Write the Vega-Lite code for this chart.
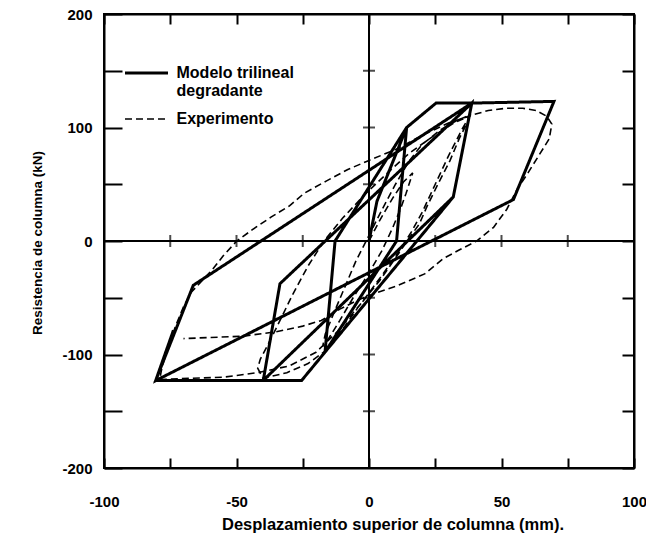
{
  "$schema": "https://vega.github.io/schema/vega-lite/v6.json",
  "width": 530,
  "height": 454,
  "autosize": "none",
  "padding": {"left": 104, "top": 14, "right": 12, "bottom": 76},
  "background": "white",
  "config": {
    "font": "Liberation Sans",
    "view": {"stroke": "black", "strokeWidth": 2},
    "axis": {
      "grid": false,
      "domainColor": "black",
      "domainWidth": 2,
      "tickColor": "black",
      "tickWidth": 2,
      "labelColor": "black",
      "labelFont": "Liberation Sans",
      "labelFontSize": 15,
      "labelFontWeight": "bold",
      "labelOverlap": false,
      "labelFlush": false,
      "titleColor": "black",
      "titleFont": "Liberation Sans"
    }
  },
  "datasets": {
    "modelo": [
      {"i": 1, "x": 0, "y": 0}, {"i": 2, "x": 3, "y": 35}, {"i": 3, "x": 14.2, "y": 100},
      {"i": 4, "x": 10.4, "y": 0}, {"i": 5, "x": -16.6, "y": -97.9}, {"i": 6, "x": -12.8, "y": 0},
      {"i": 7, "x": 14.2, "y": 100}, {"i": 8, "x": 25.3, "y": 121.5}, {"i": 9, "x": 38.8, "y": 121.5},
      {"i": 10, "x": 31.8, "y": 38.8}, {"i": 11, "x": -16.6, "y": -97.9}, {"i": 12, "x": -25.4, "y": -122.8},
      {"i": 13, "x": -39.9, "y": -122.8}, {"i": 14, "x": -33.6, "y": -37.6}, {"i": 15, "x": 38.8, "y": 121.5},
      {"i": 16, "x": 31.8, "y": 38.8}, {"i": 17, "x": -39.9, "y": -122.8}, {"i": 18, "x": -80.5, "y": -123},
      {"i": 19, "x": -66.3, "y": -39}, {"i": 20, "x": 38.8, "y": 121.5}, {"i": 21, "x": 69.8, "y": 123},
      {"i": 22, "x": 54.5, "y": 36.5}, {"i": 23, "x": -80.5, "y": -123}, {"i": 24, "x": -73.8, "y": -78.7}
    ],
    "experimento": [
      {"i": 1, "x": 0, "y": 0}, {"i": 2, "x": 4, "y": 18}, {"i": 3, "x": 9, "y": 38}, {"i": 4, "x": 13, "y": 52},
      {"i": 5, "x": 16.5, "y": 60}, {"i": 6, "x": 14, "y": 42}, {"i": 7, "x": 12, "y": 29}, {"i": 8, "x": 9, "y": 12},
      {"i": 9, "x": 5, "y": -8}, {"i": 10, "x": 0, "y": -28}, {"i": 11, "x": -6, "y": -50}, {"i": 12, "x": -11, "y": -70},
      {"i": 13, "x": -15, "y": -85}, {"i": 14, "x": -17.5, "y": -93}, {"i": 15, "x": -16.5, "y": -82}, {"i": 16, "x": -13, "y": -62},
      {"i": 17, "x": -9, "y": -40}, {"i": 18, "x": -5, "y": -18}, {"i": 19, "x": 0, "y": 5}, {"i": 20, "x": 5, "y": 28},
      {"i": 21, "x": 10, "y": 50}, {"i": 22, "x": 15, "y": 70}, {"i": 23, "x": 20, "y": 85}, {"i": 24, "x": 27, "y": 98},
      {"i": 25, "x": 33, "y": 106}, {"i": 26, "x": 38, "y": 111}, {"i": 27, "x": 37.5, "y": 106}, {"i": 28, "x": 34, "y": 90},
      {"i": 29, "x": 30.6, "y": 71}, {"i": 30, "x": 26, "y": 50}, {"i": 31, "x": 21.8, "y": 30}, {"i": 32, "x": 19, "y": 15},
      {"i": 33, "x": 15, "y": 2}, {"i": 34, "x": 10, "y": -15}, {"i": 35, "x": 4, "y": -35}, {"i": 36, "x": -4, "y": -58},
      {"i": 37, "x": -10, "y": -78}, {"i": 38, "x": -16, "y": -96}, {"i": 39, "x": -23, "y": -108}, {"i": 40, "x": -31, "y": -116},
      {"i": 41, "x": -40, "y": -121}, {"i": 42, "x": -42, "y": -112}, {"i": 43, "x": -41, "y": -104}, {"i": 44, "x": -38.6, "y": -93.5},
      {"i": 45, "x": -34, "y": -72}, {"i": 46, "x": -29, "y": -48}, {"i": 47, "x": -23, "y": -22}, {"i": 48, "x": -17, "y": 0},
      {"i": 49, "x": -10, "y": 20}, {"i": 50, "x": -2, "y": 40}, {"i": 51, "x": 7, "y": 60}, {"i": 52, "x": 15, "y": 77},
      {"i": 53, "x": 24, "y": 92}, {"i": 54, "x": 32, "y": 104}, {"i": 55, "x": 38, "y": 110}, {"i": 56, "x": 35, "y": 98},
      {"i": 57, "x": 30, "y": 75}, {"i": 58, "x": 25, "y": 50}, {"i": 59, "x": 20, "y": 25}, {"i": 60, "x": 16, "y": 8},
      {"i": 61, "x": 11, "y": -10}, {"i": 62, "x": 5, "y": -30}, {"i": 63, "x": -3, "y": -55}, {"i": 64, "x": -12, "y": -80},
      {"i": 65, "x": -20, "y": -98}, {"i": 66, "x": -30, "y": -110}, {"i": 67, "x": -42, "y": -116}, {"i": 68, "x": -55, "y": -120},
      {"i": 69, "x": -68, "y": -121}, {"i": 70, "x": -79, "y": -122}, {"i": 71, "x": -78, "y": -110}, {"i": 72, "x": -76, "y": -95},
      {"i": 73, "x": -73, "y": -75}, {"i": 74, "x": -70, "y": -58}, {"i": 75, "x": -67, "y": -45}, {"i": 76, "x": -63, "y": -35},
      {"i": 77, "x": -59, "y": -25}, {"i": 78, "x": -55, "y": -13}, {"i": 79, "x": -49.9, "y": 0}, {"i": 80, "x": -44, "y": 10},
      {"i": 81, "x": -37, "y": 21}, {"i": 82, "x": -30, "y": 31}, {"i": 83, "x": -24.5, "y": 42}, {"i": 84, "x": -16, "y": 53},
      {"i": 85, "x": -8, "y": 63}, {"i": 86, "x": 0, "y": 71}, {"i": 87, "x": 10.4, "y": 81}, {"i": 88, "x": 20, "y": 93},
      {"i": 89, "x": 30, "y": 104}, {"i": 90, "x": 39, "y": 111}, {"i": 91, "x": 45, "y": 115}, {"i": 92, "x": 52, "y": 117},
      {"i": 93, "x": 58, "y": 117}, {"i": 94, "x": 63, "y": 115}, {"i": 95, "x": 67, "y": 110}, {"i": 96, "x": 69, "y": 103},
      {"i": 97, "x": 68, "y": 90}, {"i": 98, "x": 64, "y": 75}, {"i": 99, "x": 60, "y": 60}, {"i": 100, "x": 56, "y": 46},
      {"i": 101, "x": 52, "y": 28}, {"i": 102, "x": 47, "y": 12}, {"i": 103, "x": 40.6, "y": 0}, {"i": 104, "x": 34, "y": -8},
      {"i": 105, "x": 28, "y": -15.5}, {"i": 106, "x": 21, "y": -29}, {"i": 107, "x": 10, "y": -40}, {"i": 108, "x": 0, "y": -48},
      {"i": 109, "x": -5, "y": -53}, {"i": 110, "x": -11, "y": -60}, {"i": 111, "x": -18, "y": -70}, {"i": 112, "x": -25, "y": -75},
      {"i": 113, "x": -35, "y": -80}, {"i": 114, "x": -48, "y": -84}, {"i": 115, "x": -60, "y": -85}, {"i": 116, "x": -70, "y": -86}
    ],
    "marcasX": [{"x": -75}, {"x": -50}, {"x": -25}, {"x": 25}, {"x": 50}, {"x": 75}],
    "marcasY": [{"y": -150}, {"y": -100}, {"y": -50}, {"y": 50}, {"y": 100}, {"y": 150}],
    "origen": [{"x": 0, "y": 0}]
  },
  "layer": [
    {
      "data": {"name": "origen"},
      "mark": {"type": "rule", "color": "black", "strokeWidth": 2},
      "encoding": {"y": {"field": "y", "type": "quantitative", "axis": null}}
    },
    {
      "data": {"name": "origen"},
      "mark": {"type": "rule", "color": "black", "strokeWidth": 2},
      "encoding": {"x": {"field": "x", "type": "quantitative", "axis": null}}
    },
    {
      "data": {"name": "modelo"},
      "mark": {"type": "line", "color": "black", "strokeWidth": 3, "strokeJoin": "miter", "clip": true},
      "encoding": {
        "x": {
          "field": "x", "type": "quantitative",
          "scale": {"domain": [-100, 100], "nice": false},
          "axis": {
            "orient": "bottom",
            "values": [-100, -75, -50, -25, 0, 25, 50, 75, 100],
            "labelExpr": "datum.value % 50 == 0 ? '' + datum.value : ''",
            "tickSize": -10,
            "labelPadding": 43.5,
            "labelBaseline": "middle",
            "title": "Desplazamiento superior de columna (mm).",
            "titleX": 288.5,
            "titleY": 56.5,
            "titleAlign": "center",
            "titleBaseline": "middle",
            "titleFontSize": 16.5,
            "titleFontWeight": "bold"
          }
        },
        "y": {
          "field": "y", "type": "quantitative",
          "scale": {"domain": [-200, 200], "nice": false},
          "axis": {
            "orient": "left",
            "values": [-200, -150, -100, -50, 0, 50, 100, 150, 200],
            "labelExpr": "datum.value % 100 == 0 ? '' + datum.value : ''",
            "tickSize": -18,
            "labelPadding": 30,
            "title": "Resistencia de columna (kN)",
            "titleX": -67,
            "titleY": 228.5,
            "titleAngle": -90,
            "titleAlign": "center",
            "titleBaseline": "middle",
            "titleFontSize": 13.5,
            "titleFontWeight": "bold"
          }
        },
        "order": {"field": "i", "type": "quantitative"},
        "strokeDash": {
          "datum": "Modelo trilineal degradante",
          "type": "nominal",
          "scale": {"domain": ["Modelo trilineal degradante", "Experimento"], "range": [[1, 0], [7, 4]]},
          "legend": {
            "orient": "none",
            "legendX": 34.5,
            "legendY": 51,
            "title": null,
            "padding": 0,
            "symbolType": "stroke",
            "symbolSize": 1849,
            "symbolStrokeColor": "black",
            "symbolStrokeWidth": {"expr": "datum.value == 'Experimento' ? 1.6 : 3"},
            "labelFont": "Liberation Sans",
            "labelFontSize": 16,
            "labelFontWeight": "bold",
            "labelColor": "black",
            "labelOffset": 22,
            "rowPadding": 12,
            "labelExpr": "datum.value == 'Modelo trilineal degradante' ? ['Modelo trilineal', 'degradante'] : datum.label"
          }
        }
      }
    },
    {
      "data": {"name": "experimento"},
      "mark": {"type": "line", "color": "black", "strokeWidth": 1.6, "clip": true},
      "encoding": {
        "x": {"field": "x", "type": "quantitative", "axis": null},
        "y": {"field": "y", "type": "quantitative", "axis": null},
        "order": {"field": "i", "type": "quantitative"},
        "strokeDash": {"datum": "Experimento", "type": "nominal"}
      }
    },
    {
      "data": {"name": "marcasX"},
      "mark": {"type": "tick", "orient": "vertical", "color": "black", "size": 12, "thickness": 2},
      "encoding": {
        "x": {
          "field": "x", "type": "quantitative",
          "axis": {"orient": "top", "values": [-100, -75, -50, -25, 0, 25, 50, 75, 100], "labels": false, "tickSize": -10, "title": null}
        },
        "y": {"datum": 0, "type": "quantitative", "axis": null}
      }
    },
    {
      "data": {"name": "marcasY"},
      "mark": {"type": "tick", "orient": "horizontal", "color": "black", "size": 12, "thickness": 2},
      "encoding": {
        "y": {
          "field": "y", "type": "quantitative",
          "axis": {"orient": "right", "values": [-200, -150, -100, -50, 0, 50, 100, 150, 200], "labels": false, "tickSize": -12, "title": null}
        },
        "x": {"datum": 0, "type": "quantitative", "axis": null}
      }
    }
  ],
  "resolve": {"axis": {"x": "independent", "y": "independent"}}
}
